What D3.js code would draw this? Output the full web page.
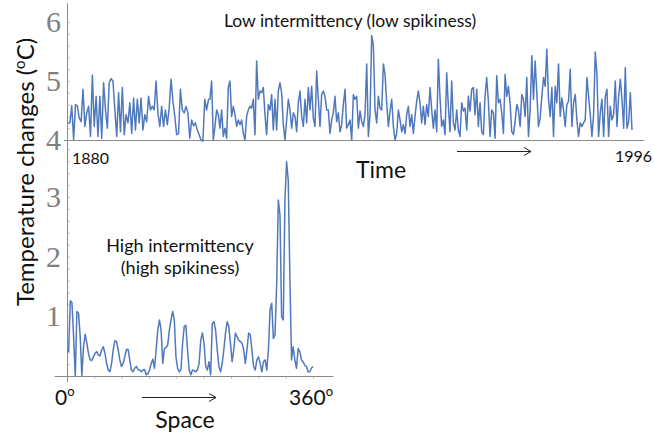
<!DOCTYPE html>
<html>
<head>
<meta charset="utf-8">
<script src="https://cdn.jsdelivr.net/npm/d3@7"></script>
<style>
  body { margin: 0; background: #fff; }
</style>
</head>
<body>
<svg id="chart"></svg>
<script>
// top panel: temperature changes over time, 1880 - 1996, read in four stretches
const timeRange = [1880, 1996];
const timeSpans = [[1880, 1908.9], [1909.2, 1938.0], [1938.35, 1966.8], [1967.15, 1996]];
const timeValuesA = [
  4.29,4.29,4.58,4.01,4.60,4.58,4.37,4.31,4.86,4.23,4.46,4.57,4.06,5.10,4.23,4.74,4.06,4.74,4.03,4.97,
  4.51,4.20,4.97,5.04,5.00,4.51,4.06,4.80,4.14,4.89,4.09,4.43,4.29,4.63,4.11,4.71,4.17,4.69,4.29,4.71,
  4.17,4.43,4.31,4.74,4.51,4.57,4.51,5.00,4.46,4.23,4.57,4.23,4.51,4.26,4.54,5.03,4.66,4.40,4.09,4.11,
  4.86,4.51,4.46,4.57,4.46,4.03,4.34,4.24,4.29,4.17,4.09,4.00,3.98,4.69,4.51,4.69
];
const timeValuesB = [
  4.69,5.00,4.00,4.23,4.51,4.43,4.20,4.51,4.06,4.20,4.03,4.89,5.00,4.40,4.57,4.43,4.23,4.34,4.26,4.34,
  4.11,4.00,4.40,4.51,4.57,4.54,4.69,4.09,5.34,4.69,4.83,4.80,4.89,4.43,4.09,4.60,4.51,4.77,4.17,4.69,
  4.17,4.83,4.97,4.80,4.26,4.00,4.34,4.69,4.51,4.20,4.46,4.40,4.14,4.63,4.83,4.40,4.23,4.69,4.29,4.89,
  4.51,4.91,4.37,4.23,5.17,4.69,4.23,4.77,4.83,4.74,4.51,4.51,4.11,4.34,4.46,4.74,4.31,4.46,4.14,4.26,
  4.60,4.86,4.20,4.26,4.34
];
const timeValuesC = [
  4.00,4.77,4.69,4.74,4.20,4.49,4.31,4.23,4.43,5.29,4.06,4.43,5.77,5.60,4.51,4.29,4.74,4.54,4.51,
  5.29,5.11,4.63,4.23,4.49,4.69,4.23,4.00,4.11,4.51,4.34,4.14,4.26,4.11,4.43,4.57,4.23,4.43,4.11,4.40,
  4.66,4.83,4.63,4.29,4.57,4.26,4.60,4.40,4.89,4.51,4.20,4.51,4.14,5.37,4.71,4.23,4.34,4.09,5.14,4.57,
  4.14,5.00,4.29,4.17,4.51,4.17,4.06,4.63,4.49,4.54,4.17,4.74,4.49,4.86,4.89,4.43,4.86,4.23,4.63,4.14,
  4.09,4.74,5.06,4.66,4.06
];
const timeValuesD = [
  4.51,4.46,4.03,5.09,4.63,4.69,4.46,4.11,5.11,4.74,4.91,4.63,4.14,4.09,4.31,4.60,4.51,4.23,4.77,
  4.69,4.40,5.06,4.06,4.51,5.43,4.69,5.34,4.80,4.23,4.37,4.74,5.06,4.91,5.54,4.69,4.40,4.89,4.06,4.91,
  4.63,5.29,4.40,4.71,4.51,4.23,4.60,4.66,5.20,4.23,4.63,4.77,4.34,4.06,4.29,4.23,4.29,4.34,5.06,4.74,
  4.43,4.06,4.43,5.49,5.11,4.06,4.46,4.69,4.06,4.74,4.86,4.06,4.57,4.34,4.43,5.00,4.23,4.74,5.03,4.69,
  4.20,5.23,4.20,4.31,4.80,4.17
];

// bottom panel: changes along a circle, 0 - 360 degrees
const spaceRange = [0, 360];
const spaceValues = [
  0.41,0.41,1.26,1.23,0.66,0.00,1.08,1.05,0.66,0.00,0.49,0.70,0.55,0.38,0.27,0.26,0.32,0.38,0.41,0.35,
  0.34,0.44,0.49,0.38,0.21,0.10,0.07,0.21,0.44,0.59,0.58,0.44,0.27,0.16,0.21,0.32,0.44,0.45,0.27,0.10,
  0.07,0.13,0.16,0.11,0.10,0.07,0.10,0.11,0.02,0.04,0.10,0.21,0.28,0.13,0.44,0.77,0.94,0.77,0.21,0.46,
  0.48,0.52,0.77,0.94,1.08,0.94,0.32,0.13,0.07,0.10,0.55,0.83,0.85,0.44,0.10,0.02,0.10,0.09,0.07,0.10,
  0.21,0.60,0.72,0.55,0.16,
  0.10,0.24,0.02,0.88,0.91,0.77,0.44,0.16,0.07,0.21,0.44,0.72,0.91,0.83,0.55,0.24,0.44,0.72,0.66,0.60,
  0.58,0.55,0.44,0.21,0.44,0.72,0.69,0.44,0.16,0.10,0.27,0.32,0.21,0.07,0.24,0.27,0.10,0.44,1.11,1.22,
  0.63,0.69,1.55,2.95,2.70,0.99,0.94,2.95,3.59,3.28,1.66,0.27,0.49,0.27,0.13,0.46,0.41,0.27,0.24,0.18,
  0.16,0.07,0.07,0.13,0.16
];

const topTicks = [4, 5, 6];
const bottomTicks = [1, 2, 3];

const width = 654, height = 436;
const sans = "Lato, 'Open Sans', sans-serif";
const blue = "#5079bd";
const axisGrey = "#8a8a8a";

const svg = d3.select("#chart")
  .attr("width", width)
  .attr("height", height);

const xTime = d3.scaleLinear().domain(timeRange).range([68, 632]);
const yTop = d3.scaleLinear().domain([4, 6]).range([140, 22]);
const xSpace = d3.scaleLinear().domain(spaceRange).range([67, 313]);
const yBottom = d3.scaleLinear().domain([0, 3]).range([376, 197]);

// small inner ticks on the left axis, every 0.2
svg.append("g")
  .attr("transform", "translate(67,0)")
  .call(d3.axisRight(yTop).tickValues(d3.range(4, 6.01, 0.2)).tickSize(3).tickFormat(""))
  .call(g => g.select(".domain").remove())
  .call(g => g.selectAll("line").attr("stroke", "#c8c8c8"));

svg.append("g")
  .attr("transform", "translate(67,0)")
  .call(d3.axisRight(yBottom).tickValues(d3.range(0.2, 3.81, 0.2)).tickSize(3).tickFormat(""))
  .call(g => g.select(".domain").remove())
  .call(g => g.selectAll("line").attr("stroke", "#c8c8c8"));

// tick labels (big grey serif numbers)
[[yTop, topTicks], [yBottom, bottomTicks]].forEach(([y, ticks]) => {
  svg.append("g")
    .attr("transform", "translate(67,0)")
    .call(d3.axisLeft(y).tickValues(ticks).tickSize(0).tickPadding(6).tickFormat(d3.format("d")))
    .call(g => g.select(".domain").remove())
    .call(g => g.selectAll("text")
      .attr("font-family", "'Liberation Serif', serif")
      .attr("font-size", 30)
      .attr("fill", "#808080"));
});

// bottom x ticks
svg.append("g")
  .attr("transform", "translate(0,376)")
  .call(d3.axisBottom(xSpace).tickValues(d3.range(0, 361, 40)).tickSize(3).tickFormat(""))
  .call(g => g.select(".domain").remove())
  .call(g => g.selectAll("line").attr("stroke", "#c8c8c8"));

// axis lines
svg.append("line")
  .attr("x1", 67.5).attr("x2", 67.5)
  .attr("y1", yTop(6.32)).attr("y2", yBottom(-0.1))
  .attr("stroke", axisGrey);

svg.append("line")
  .attr("x1", 64).attr("x2", xTime(1998.5))
  .attr("y1", yTop(4) + 0.5).attr("y2", yTop(4) + 0.5)
  .attr("stroke", axisGrey);

svg.append("line")
  .attr("x1", xSpace(-18)).attr("x2", xSpace(390))
  .attr("y1", yBottom(0) + 0.5).attr("y2", yBottom(0) + 0.5)
  .attr("stroke", axisGrey);

// series: each stretch of readings spread evenly over its years
const timePoints = [timeValuesA, timeValuesB, timeValuesC, timeValuesD].flatMap((vals, k) => {
  const [y0, y1] = timeSpans[k];
  const step = (y1 - y0) / (vals.length - 1);
  return vals.map((v, i) => ({ year: y0 + i * step, value: v }));
});

svg.append("path")
  .datum(timePoints)
  .attr("d", d3.line().x(d => xTime(d.year)).y(d => yTop(d.value)))
  .attr("fill", "none")
  .attr("stroke", blue)
  .attr("stroke-width", 1.5)
  .attr("stroke-linejoin", "round");

const spaceStep = (spaceRange[1] - spaceRange[0]) / (spaceValues.length - 1);
const spaceLine = d3.line()
  .x((d, i) => xSpace(spaceRange[0] + i * spaceStep))
  .y(d => yBottom(d));

svg.append("path")
  .datum(spaceValues)
  .attr("d", spaceLine)
  .attr("fill", "none")
  .attr("stroke", blue)
  .attr("stroke-width", 1.5)
  .attr("stroke-linejoin", "round");

// text
const label = (x, y, txt, size, anchor) => svg.append("text")
  .attr("x", x).attr("y", y)
  .attr("font-family", sans)
  .attr("font-size", size)
  .attr("text-anchor", anchor || "middle")
  .attr("fill", "#111")
  .text(txt);

label(350, 27, "Low intermittency (low spikiness)", 17.5);
label(72, 164, timeRange[0], 16, "start");
label(652, 162, timeRange[1], 16, "end");
label(381, 178, "Time", 23);
label(180, 252, "High intermittency", 18);
label(180, 274, "(high spikiness)", 18);
label(185, 428, "Space", 23);

const deg = (x, txt, anchor) => {
  const t = label(x, 405, txt, 21, anchor);
  t.append("tspan").attr("font-size", 13).attr("dy", -9).text("o");
  return t;
};
deg(55, "0", "start");
deg(333, "360", "end");

// y axis title
const yTitle = svg.append("text")
  .attr("transform", "translate(34,172) rotate(-90)")
  .attr("font-family", sans)
  .attr("font-size", 24)
  .attr("text-anchor", "middle")
  .attr("fill", "#111")
  .text("Temperature changes (");
yTitle.append("tspan").attr("font-size", 15).attr("dy", -9).text("o");
yTitle.append("tspan").attr("dy", 9).text("C)");

// arrows
const arrow = (x1, x2, y) => {
  svg.append("path")
    .attr("d", `M${x1},${y}H${x2}M${x2 - 7},${y - 4}L${x2},${y}L${x2 - 7},${y + 4}`)
    .attr("fill", "none")
    .attr("stroke", "#222")
    .attr("stroke-width", 1);
};
arrow(457, 531, 151.5);
arrow(142, 216, 397.5);
</script>
</body>
</html>
